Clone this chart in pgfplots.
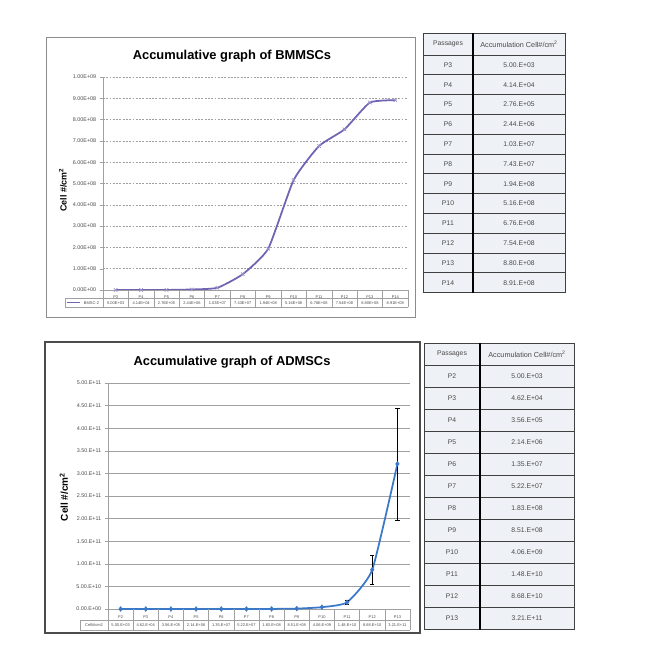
\documentclass[border=0pt]{standalone}
\usepackage{fontspec}
\setmainfont{Liberation Sans}
\usepackage{pgfplots}
\pgfplotsset{compat=1.18}

\definecolor{bmline}{HTML}{7262B2}
\definecolor{bmmark}{HTML}{9C92CC}
\definecolor{adline}{HTML}{3C78C8}
\definecolor{gridc}{HTML}{A0A0A0}
\definecolor{cellbg}{HTML}{EEF1F5}
\definecolor{txt}{HTML}{4A4A4A}
\definecolor{framec}{HTML}{8C8C8C}

\newcommand\tfont{\fontsize{5.8}{7}\selectfont}
\newcommand\cfont{\fontsize{3.4}{4}\selectfont}
\newcommand\yfont{\fontsize{4.6}{5}\selectfont}

\begin{document}
\begin{tikzpicture}
% picture laid out in reference pixels (1 px = 0.3 mm)
\begin{scope}[x=0.3mm,y=0.3mm]
\path (0,0) rectangle (650,645);
\draw[framec, line width=0.6pt] (46,608) rectangle (415,328);
\draw[black!70, line width=0.9pt] (45,303) rectangle (420,12);
\node[font=\fontsize{11}{13}\selectfont\bfseries] at (232,589) {Accumulative graph of BMMSCs};
\node[font=\fontsize{11}{13}\selectfont\bfseries] at (232,283) {Accumulative graph of ADMSCs};
\node[rotate=90, font=\fontsize{7.6}{9}\selectfont\bfseries] at (63,455) {Cell \#/cm\textsuperscript{2}};
\node[rotate=90, font=\fontsize{8.5}{10}\selectfont\bfseries] at (64,148) {Cell \#/cm\textsuperscript{2}};
\end{scope}

% BMMSCs
\begin{axis}[
  at={(30.9mm,106.5mm)}, anchor=south west,
  scale only axis, width=91.5mm, height=63.9mm,
  xmin=0.5, xmax=12.5, ymin=0, ymax=1e9,
  axis x line*=bottom, axis y line*=left,
  axis line style={gridc, line width=0.5pt},
  xtick={1,...,12},
  xticklabels={P3,P4,P5,P6,P7,P8,P9,P10,P11,P12,P13,P14},
  xtick style={draw=none},
  xticklabel style={font=\cfont, text=txt, anchor=center, yshift=-1.25mm},
  ytick={0,1e8,2e8,3e8,4e8,5e8,6e8,7e8,8e8,9e8,1e9},
  yticklabels={0.00E+00,1.00E+08,2.00E+08,3.00E+08,4.00E+08,5.00E+08,6.00E+08,7.00E+08,8.00E+08,9.00E+08,1.00E+09},
  scaled y ticks=false,
  yticklabel style={font=\yfont, text=txt},
  ytick style={gridc}, tick align=outside, major tick length=0.8mm,
  ymajorgrids, grid style={gridc, dash pattern=on 1.6pt off 1.2pt, line width=0.4pt},
]
\addplot[bmline, line width=1.5pt, smooth, tension=0.3, mark=x, mark size=2.1pt,
  mark options={bmmark, line width=0.6pt}]
  coordinates {(1,5.00e3)(2,4.14e4)(3,2.76e5)(4,2.44e6)(5,1.03e7)(6,7.43e7)
               (7,1.94e8)(8,5.16e8)(9,6.76e8)(10,7.54e8)(11,8.80e8)(12,8.91e8)};
\end{axis}

% ADMSCs
\begin{axis}[
  at={(32.4mm,10.8mm)}, anchor=south west,
  scale only axis, width=90.6mm, height=67.8mm,
  xmin=0.5, xmax=12.5, ymin=0, ymax=5e11,
  axis x line*=bottom, axis y line*=left,
  axis line style={gridc, line width=0.5pt},
  xtick={1,...,12},
  xticklabels={P2,P3,P4,P5,P6,P7,P8,P9,P10,P11,P12,P13},
  xtick style={draw=none},
  xticklabel style={font=\cfont, text=txt, anchor=center, yshift=-1.65mm},
  ytick={0,5e10,1e11,1.5e11,2e11,2.5e11,3e11,3.5e11,4e11,4.5e11,5e11},
  yticklabels={0.00.E+00,5.00.E+10,1.00.E+11,1.50.E+11,2.00.E+11,2.50.E+11,3.00.E+11,3.50.E+11,4.00.E+11,4.50.E+11,5.00.E+11},
  scaled y ticks=false,
  yticklabel style={font=\yfont, text=txt},
  ytick style={gridc}, tick align=outside, major tick length=0.8mm,
  ymajorgrids, grid style={gridc, line width=0.5pt},
]
\addplot[adline, line width=1.5pt, smooth, tension=0.3, mark=diamond*, mark size=2pt,
  mark options={fill=adline, draw=adline, line width=0.5pt}]
  coordinates {(1,5.00e3)(2,4.62e4)(3,3.56e5)(4,2.14e6)(5,1.35e7)(6,5.22e7)
               (7,1.83e8)(8,8.51e8)(9,4.06e9)(10,1.48e10)(11,8.68e10)(12,3.21e11)};
\addplot[draw=none, forget plot, error bars/.cd, y dir=both, y explicit,
  error bar style={black, line width=0.5pt},
  error mark options={rotate=90, mark size=1.8pt, black, line width=0.5pt}]
  coordinates {(10,1.48e10) +- (0,4e9) (11,8.68e10) +- (0,3.2e10) (12,3.21e11) +- (0,1.24e11)};
\end{axis}

\begin{scope}[x=0.3mm,y=0.3mm]
% data table under BMMSCs chart
\foreach \k in {0,...,12} \draw[gridc, line width=0.4pt] ({103+25.417*\k},355) -- ({103+25.417*\k},337.7);
\draw[gridc, line width=0.4pt] (65,346.7) -- (408,346.7) (65,337.7) -- (408,337.7) (65,346.7) -- (65,337.7);
\draw[bmline, line width=1pt] (67,342.2) -- (80,342.2);
\node[font=\cfont, text=txt] at (91.5,342.2) {BMSC-2};
\foreach \v [count=\i] in {5.00E+03,4.14E+04,2.76E+05,2.44E+06,1.03E+07,7.43E+07,1.94E+08,5.16E+08,6.76E+08,7.54E+08,8.80E+08,8.91E+08}
  \node[font=\cfont, text=txt] at ({103+25.417*(\i-0.5)},342.2) {\v};
% data table under ADMSCs chart
\foreach \k in {0,...,12} \draw[gridc, line width=0.4pt] ({108+25.167*\k},36) -- ({108+25.167*\k},15);
\draw[gridc, line width=0.4pt] (80,25) -- (410,25) (80,15) -- (410,15) (80,25) -- (80,15);
\node[font=\cfont, text=txt] at (94,20) {Cell\#/cm2};
\foreach \v [count=\i] in {5.00.E+03,4.62.E+04,3.56.E+05,2.14.E+06,1.35.E+07,5.22.E+07,1.83.E+08,8.51.E+08,4.06.E+09,1.48.E+10,8.68.E+10,3.21.E+11}
  \node[font=\cfont, text=txt] at ({108+25.167*(\i-0.5)},20) {\v};

% table beside BMMSCs
\fill[cellbg] (423,612) rectangle (565,352.4);
\foreach \i in {0,...,12} \draw[black!75, line width=0.6pt] (423,{590-19.8*\i}) -- (565,{590-19.8*\i});
\draw[black!75, line width=0.6pt] (423,612) rectangle (565,352.4);
\draw[black, line width=1pt] (473,612) -- (473,352.4);
\node[font=\tfont, text=txt] at (448,601) {Passages};
\node[font=\fontsize{6.2}{7}\selectfont, text=txt] at (519,601) {Accumulation Cell\#/cm\textsuperscript{2}};
\foreach \p/\v [count=\i] in {P3/5.00.E+03,P4/4.14.E+04,P5/2.76.E+05,P6/2.44.E+06,P7/1.03.E+07,P8/7.43.E+07,P9/1.94.E+08,P10/5.16.E+08,P11/6.76.E+08,P12/7.54.E+08,P13/8.80.E+08,P14/8.91.E+08}{
  \node[font=\tfont, text=txt] at (448,{590-19.8*(\i-0.5)}) {\p};
  \node[font=\tfont, text=txt] at (519,{590-19.8*(\i-0.5)}) {\v};
}
% table beside ADMSCs
\fill[cellbg] (424,302) rectangle (574,15.4);
\foreach \i in {0,...,12} \draw[black!75, line width=0.6pt] (424,{280-22.05*\i}) -- (574,{280-22.05*\i});
\draw[black!75, line width=0.6pt] (424,302) rectangle (574,15.4);
\draw[black, line width=1pt] (480,302) -- (480,15.4);
\node[font=\tfont, text=txt] at (452,291) {Passages};
\node[font=\fontsize{6.2}{7}\selectfont, text=txt] at (527,291) {Accumulation Cell\#/cm\textsuperscript{2}};
\foreach \p/\v [count=\i] in {P2/5.00.E+03,P3/4.62.E+04,P4/3.56.E+05,P5/2.14.E+06,P6/1.35.E+07,P7/5.22.E+07,P8/1.83.E+08,P9/8.51.E+08,P10/4.06.E+09,P11/1.48.E+10,P12/8.68.E+10,P13/3.21.E+11}{
  \node[font=\tfont, text=txt] at (452,{280-22.05*(\i-0.5)}) {\p};
  \node[font=\tfont, text=txt] at (527,{280-22.05*(\i-0.5)}) {\v};
}
\end{scope}
\end{tikzpicture}
\end{document}
